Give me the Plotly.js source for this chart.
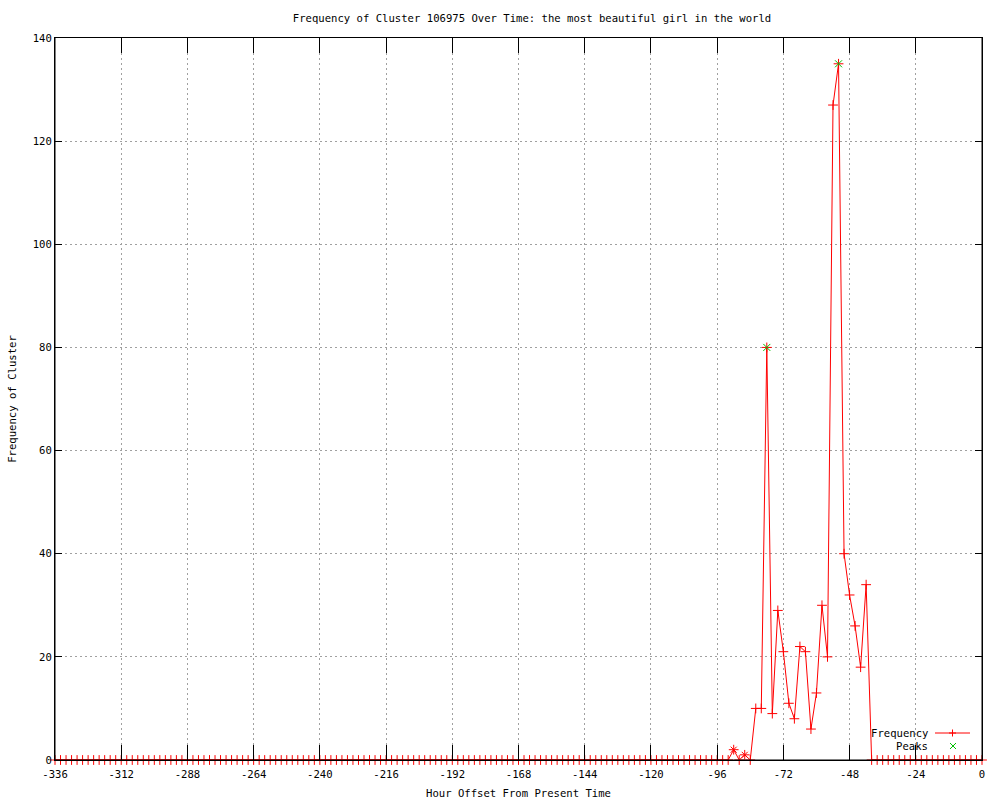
<!DOCTYPE html>
<html>
<head>
<meta charset="utf-8">
<script src="https://cdn.plot.ly/plotly-3.0.1.min.js"></script>
<style>html,body{margin:0;padding:0;background:#fff;}#chart{width:1000px;height:800px;}</style>
</head>
<body>
<div id="chart"></div>
<script>
// Hour offsets (every 2 hours from -336 to 0)
var hours = [
  -336,-334,-332,-330,-328,-326,-324,-322,-320,-318,-316,-314,
  -312,-310,-308,-306,-304,-302,-300,-298,-296,-294,-292,-290,
  -288,-286,-284,-282,-280,-278,-276,-274,-272,-270,-268,-266,
  -264,-262,-260,-258,-256,-254,-252,-250,-248,-246,-244,-242,
  -240,-238,-236,-234,-232,-230,-228,-226,-224,-222,-220,-218,
  -216,-214,-212,-210,-208,-206,-204,-202,-200,-198,-196,-194,
  -192,-190,-188,-186,-184,-182,-180,-178,-176,-174,-172,-170,
  -168,-166,-164,-162,-160,-158,-156,-154,-152,-150,-148,-146,
  -144,-142,-140,-138,-136,-134,-132,-130,-128,-126,-124,-122,
  -120,-118,-116,-114,-112,-110,-108,-106,-104,-102,-100,-98,
  -96,-94,-92,-90,-88,-86,-84,-82,-80,-78,-76,-74,
  -72,-70,-68,-66,-64,-62,-60,-58,-56,-54,-52,-50,
  -48,-46,-44,-42,-40,-38,-36,-34,-32,-30,-28,-26,
  -24,-22,-20,-18,-16,-14,-12,-10,-8,-6,-4,-2,
  0
];
// Cluster frequency at each hour offset
var frequency = [
  0,0,0,0,0,0,0,0,0,0,0,0,
  0,0,0,0,0,0,0,0,0,0,0,0,
  0,0,0,0,0,0,0,0,0,0,0,0,
  0,0,0,0,0,0,0,0,0,0,0,0,
  0,0,0,0,0,0,0,0,0,0,0,0,
  0,0,0,0,0,0,0,0,0,0,0,0,
  0,0,0,0,0,0,0,0,0,0,0,0,
  0,0,0,0,0,0,0,0,0,0,0,0,
  0,0,0,0,0,0,0,0,0,0,0,0,
  0,0,0,0,0,0,0,0,0,0,0,0,
  0,0,0,2,0,1,0,10,10,80,9,29,
  21,11,8,22,21,6,13,30,20,127,135,40,
  32,26,18,34,0,0,0,0,0,0,0,0,
  0,0,0,0,0,0,0,0,0,0,0,0,
  0
];
// Peaks (green)
var peakHours = [-78, -52];
var peakValues = [80, 135];
// Small peaks drawn as red x
var smallPeakHours = [-90, -86];
var smallPeakValues = [2, 1];

var xTicks = [-336,-312,-288,-264,-240,-216,-192,-168,-144,-120,-96,-72,-48,-24,0];
var yTicks = [0,20,40,60,80,100,120,140];

var RED = '#ff0000', GREEN = '#00c000';
var FONT = 'DejaVu Sans Mono, monospace';
var FS = 10.6;

var traces = [
  {
    x: hours, y: frequency, type: 'scatter', mode: 'lines+markers',
    name: 'Frequency', cliponaxis: false, showlegend: false,
    line: {color: RED, width: 1},
    marker: {symbol: 'cross-thin', size: 7, color: RED, line: {color: RED, width: 1}}
  },
  {
    x: smallPeakHours, y: smallPeakValues, type: 'scatter', mode: 'markers',
    name: 'small', cliponaxis: false, showlegend: false,
    marker: {symbol: 'x-thin', size: 6, color: RED, line: {color: RED, width: 1}}
  },
  {
    x: peakHours, y: peakValues, type: 'scatter', mode: 'markers',
    name: 'Peaks', cliponaxis: false, showlegend: false,
    marker: {symbol: 'x-thin', size: 7, color: GREEN, line: {color: GREEN, width: 1}}
  }
];

function pl(x0, y0, x1, y1, c) {
  return {type: 'line', xref: 'paper', yref: 'paper', x0: x0, y0: y0, x1: x1, y1: y1,
          line: {color: c, width: 1}, layer: 'above'};
}
// legend (gnuplot style: text on the left, sample on the right)
var W = 927, H = 722;
function px(x) { return (x - 55) / W; }
function py(y) { return (760 - y) / H; }

var shapes = [
  // plot border drawn over the data line (as gnuplot does)
  pl(0, 0, 1, 0, '#000'),
  pl(0, 0, 0, 1, '#000'),
  pl(1, 0, 1, 1, '#000'),
  pl(px(935), py(733), px(970), py(733), RED),
  pl(px(952.5), py(729.5), px(952.5), py(736.5), RED),
  pl(px(949), py(733), px(956), py(733), RED),
  pl(px(950), py(743), px(956), py(749), GREEN),
  pl(px(950), py(749), px(956), py(743), GREEN)
];
var annotations = [
  {text: 'Frequency', xref: 'paper', yref: 'paper', x: px(930), y: py(733), xanchor: 'right', yanchor: 'middle',
   showarrow: false, font: {family: FONT, size: FS, color: '#000'}},
  {text: 'Peaks', xref: 'paper', yref: 'paper', x: px(930), y: py(746), xanchor: 'right', yanchor: 'middle',
   showarrow: false, font: {family: FONT, size: FS, color: '#000'}}
];

var axisCommon = {
  showline: true, linecolor: '#000', linewidth: 1, mirror: 'ticks',
  ticks: 'inside', tickcolor: '#000', tickwidth: 1,
  showgrid: true, gridcolor: '#a0a0a0', griddash: '2px,3px', gridwidth: 1,
  zeroline: false, tickfont: {family: FONT, size: FS, color: '#000'},
  fixedrange: true
};

var layout = {
  width: 1000, height: 800,
  margin: {l: 55, r: 18, t: 38, b: 40, pad: 0},
  paper_bgcolor: '#fff', plot_bgcolor: '#fff',
  showlegend: false,
  title: {text: 'Frequency of Cluster 106975 Over Time: the most beautiful girl in the world',
          font: {family: FONT, size: FS, color: '#000'}, x: 0.532, xref: 'container', xanchor: 'center',
          y: 0.977, yref: 'container', yanchor: 'middle'},
  xaxis: Object.assign({}, axisCommon, {
    range: [-336, 0], tickvals: xTicks, ticktext: xTicks.map(String), ticklen: 15,
    ticklabelstandoff: 4,
    title: {text: 'Hour Offset From Present Time', font: {family: FONT, size: FS, color: '#000'}, standoff: 10}
  }),
  yaxis: Object.assign({}, axisCommon, {
    range: [0, 140], tickvals: yTicks, ticktext: yTicks.map(String), ticklen: 7,
    title: {text: 'Frequency of Cluster', font: {family: FONT, size: FS, color: '#000'}, standoff: 14}
  }),
  shapes: shapes,
  annotations: annotations
};

Plotly.newPlot('chart', traces, layout, {displayModeBar: false, staticPlot: true});
</script>
</body>
</html>
